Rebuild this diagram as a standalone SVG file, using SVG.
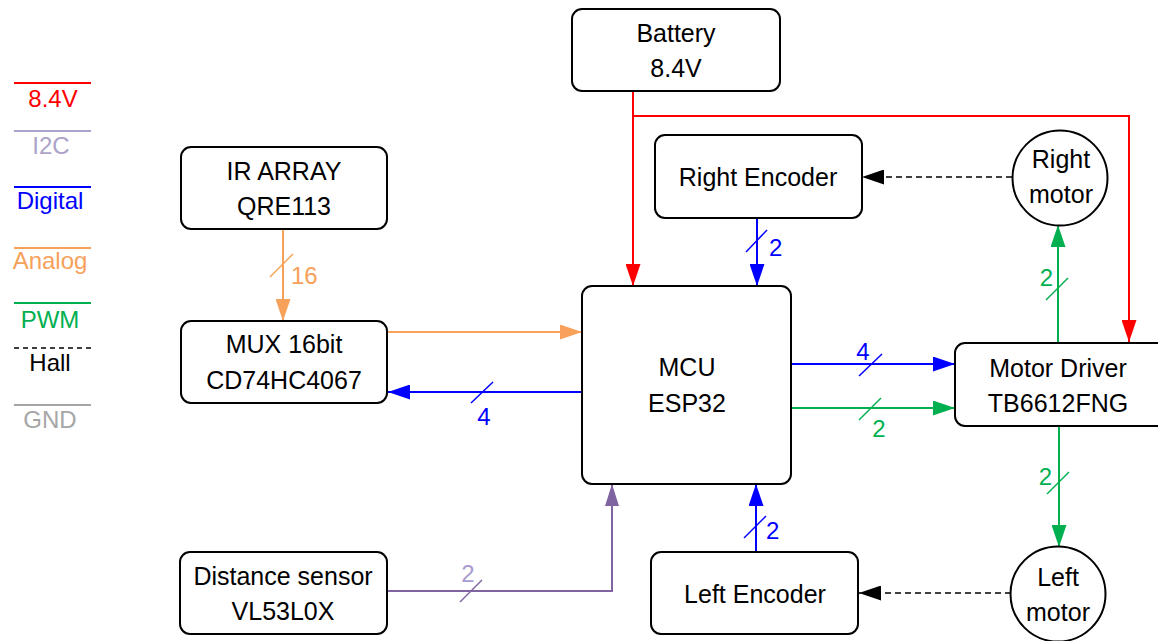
<svg xmlns="http://www.w3.org/2000/svg" width="1158" height="641" viewBox="0 0 1158 641">
<style>
.box{fill:#fff;stroke:#000;stroke-width:2}
.t{font-family:"Liberation Sans",Arial,sans-serif;font-size:25px;fill:#000;text-anchor:middle}
.lg{font-family:"Liberation Sans",Arial,sans-serif;font-size:24px;text-anchor:middle}
.lb{font-family:"Liberation Sans",Arial,sans-serif;font-size:24px}
.c{fill:none;stroke-width:2}
</style>
<defs>
<marker id="aR" viewBox="0 0 22 15" refX="22" refY="7.5" markerWidth="22" markerHeight="15" markerUnits="userSpaceOnUse" orient="auto"><path d="M0,0 L22,7.5 L0,15 Z" fill="#FF0000"/></marker>
<marker id="aB" viewBox="0 0 22 15" refX="22" refY="7.5" markerWidth="22" markerHeight="15" markerUnits="userSpaceOnUse" orient="auto"><path d="M0,0 L22,7.5 L0,15 Z" fill="#0000FF"/></marker>
<marker id="aG" viewBox="0 0 22 15" refX="22" refY="7.5" markerWidth="22" markerHeight="15" markerUnits="userSpaceOnUse" orient="auto"><path d="M0,0 L22,7.5 L0,15 Z" fill="#00B050"/></marker>
<marker id="aO" viewBox="0 0 22 15" refX="22" refY="7.5" markerWidth="22" markerHeight="15" markerUnits="userSpaceOnUse" orient="auto"><path d="M0,0 L22,7.5 L0,15 Z" fill="#F7A15A"/></marker>
<marker id="aP" viewBox="0 0 22 14" refX="22" refY="7" markerWidth="22" markerHeight="14" markerUnits="userSpaceOnUse" orient="auto"><path d="M0,0 L22,7 L0,14 Z" fill="#8064A2"/></marker>
<marker id="aK" viewBox="0 0 22 15" refX="22" refY="7.5" markerWidth="22" markerHeight="15" markerUnits="userSpaceOnUse" orient="auto"><path d="M0,0 L22,7.5 L0,15 Z" fill="#000"/></marker>
</defs>

<g id="legend">
<line x1="14" y1="83" x2="91" y2="83" stroke="#FF0000" stroke-width="2"/>
<text class="lg" x="53" y="107" fill="#FF0000">8.4V</text>
<line x1="14" y1="131" x2="91" y2="131" stroke="#ABA3C9" stroke-width="2"/>
<text class="lg" x="51" y="154" fill="#ABA3C9">I2C</text>
<line x1="14" y1="187" x2="91" y2="187" stroke="#0000FF" stroke-width="2"/>
<text class="lg" x="50" y="209" fill="#0000FF">Digital</text>
<line x1="14" y1="248" x2="91" y2="248" stroke="#F7A15A" stroke-width="2"/>
<text class="lg" x="50" y="269" fill="#F7A15A">Analog</text>
<line x1="14" y1="303" x2="91" y2="303" stroke="#00B050" stroke-width="2"/>
<text class="lg" x="50" y="328" fill="#00B050">PWM</text>
<line x1="14" y1="348" x2="91" y2="348" stroke="#000" stroke-width="1.5" stroke-dasharray="5,4"/>
<text class="lg" x="50" y="371" fill="#000">Hall</text>
<line x1="14" y1="405" x2="91" y2="405" stroke="#A6A6A6" stroke-width="2"/>
<text class="lg" x="50" y="428" fill="#A6A6A6">GND</text>
</g>

<g id="connectors">
<path class="c" stroke="#FF0000" d="M633,91 V286" marker-end="url(#aR)"/>
<path class="c" stroke="#FF0000" d="M633,116 H1129 V342" marker-end="url(#aR)"/>
<path class="c" stroke="#F7A15A" d="M283,229 V321" marker-end="url(#aO)"/>
<line x1="270" y1="277" x2="293" y2="254" stroke="#F7A15A" stroke-width="1.5"/>
<text class="lb" x="291" y="284" fill="#F7A15A">16</text>
<path class="c" stroke="#F7A15A" d="M387,332 H582" marker-end="url(#aO)"/>
<path class="c" stroke="#0000FF" d="M582,392 H388" marker-end="url(#aB)"/>
<line x1="471" y1="403" x2="493" y2="382" stroke="#0000FF" stroke-width="1.5"/>
<text class="lb" x="484" y="425" fill="#0000FF" text-anchor="middle">4</text>
<path class="c" stroke="#0000FF" d="M757,218 V286" marker-end="url(#aB)"/>
<line x1="746" y1="252" x2="767" y2="230" stroke="#0000FF" stroke-width="1.5"/>
<text class="lb" x="769" y="256" fill="#0000FF">2</text>
<path class="c" stroke="#0000FF" d="M756,552 V484" marker-end="url(#aB)"/>
<line x1="744" y1="538" x2="766" y2="516" stroke="#0000FF" stroke-width="1.5"/>
<text class="lb" x="766" y="539" fill="#0000FF">2</text>
<path class="c" stroke="#0000FF" d="M791,364 H955" marker-end="url(#aB)"/>
<line x1="859" y1="376" x2="882" y2="354" stroke="#0000FF" stroke-width="1.5"/>
<text class="lb" x="863" y="360" fill="#0000FF" text-anchor="middle">4</text>
<path class="c" stroke="#00B050" d="M791,408 H955" marker-end="url(#aG)"/>
<line x1="859" y1="420" x2="881" y2="398" stroke="#00B050" stroke-width="1.5"/>
<text class="lb" x="879" y="437" fill="#00B050" text-anchor="middle">2</text>
<path class="c" stroke="#00B050" d="M1058,343 V225" marker-end="url(#aG)"/>
<line x1="1046" y1="300" x2="1068" y2="278" stroke="#00B050" stroke-width="1.5"/>
<text class="lb" x="1053" y="286" fill="#00B050" text-anchor="end">2</text>
<path class="c" stroke="#00B050" d="M1059,426 V547" marker-end="url(#aG)"/>
<line x1="1047" y1="494" x2="1069" y2="472" stroke="#00B050" stroke-width="1.5"/>
<text class="lb" x="1052" y="485" fill="#00B050" text-anchor="end">2</text>
<path fill="none" stroke="#000" stroke-width="1.5" stroke-dasharray="6,4" d="M1012,177 H862" marker-end="url(#aK)"/>
<path fill="none" stroke="#000" stroke-width="1.5" stroke-dasharray="6,4" d="M1011,593 H859" marker-end="url(#aK)"/>
<path class="c" stroke="#8064A2" d="M387,591 H612 V484" marker-end="url(#aP)"/>
<line x1="460" y1="602" x2="482" y2="580" stroke="#8064A2" stroke-width="1.5"/>
<text class="lb" x="468" y="582" fill="#A99BD0" text-anchor="middle">2</text>
</g>

<g id="battery">
<rect class="box" x="572" y="9" width="208" height="82" rx="10"/>
<text class="t" x="676" y="42">Battery</text>
<text class="t" x="676" y="77">8.4V</text>
</g>
<g id="ir-array">
<rect class="box" x="181" y="147" width="206" height="82" rx="10"/>
<text class="t" x="284" y="180">IR ARRAY</text>
<text class="t" x="284" y="215">QRE113</text>
</g>
<g id="mux">
<rect class="box" x="181" y="321" width="206" height="82" rx="10"/>
<text class="t" x="284" y="353">MUX 16bit</text>
<text class="t" x="284" y="389">CD74HC4067</text>
</g>
<g id="right-encoder">
<rect class="box" x="655" y="135" width="207" height="83" rx="10"/>
<text class="t" x="758" y="186">Right Encoder</text>
</g>
<g id="right-motor">
<circle class="box" cx="1060" cy="178" r="47.5"/>
<text class="t" x="1061" y="168">Right</text>
<text class="t" x="1061" y="203">motor</text>
</g>
<g id="mcu">
<rect class="box" x="582" y="286" width="209" height="198" rx="10"/>
<text class="t" x="687" y="376">MCU</text>
<text class="t" x="687" y="412">ESP32</text>
</g>
<g id="motor-driver">
<rect class="box" x="955" y="343" width="215" height="83" rx="10"/>
<text class="t" x="1058" y="377">Motor Driver</text>
<text class="t" x="1058" y="412">TB6612FNG</text>
</g>
<g id="left-motor">
<circle class="box" cx="1058" cy="594" r="47.5"/>
<text class="t" x="1058" y="586">Left</text>
<text class="t" x="1058" y="621">motor</text>
</g>
<g id="left-encoder">
<rect class="box" x="651" y="552" width="207" height="82" rx="10"/>
<text class="t" x="755" y="603">Left Encoder</text>
</g>
<g id="distance-sensor">
<rect class="box" x="180" y="552" width="207" height="82" rx="10"/>
<text class="t" x="283" y="585">Distance sensor</text>
<text class="t" x="283" y="620">VL53L0X</text>
</g>
</svg>
